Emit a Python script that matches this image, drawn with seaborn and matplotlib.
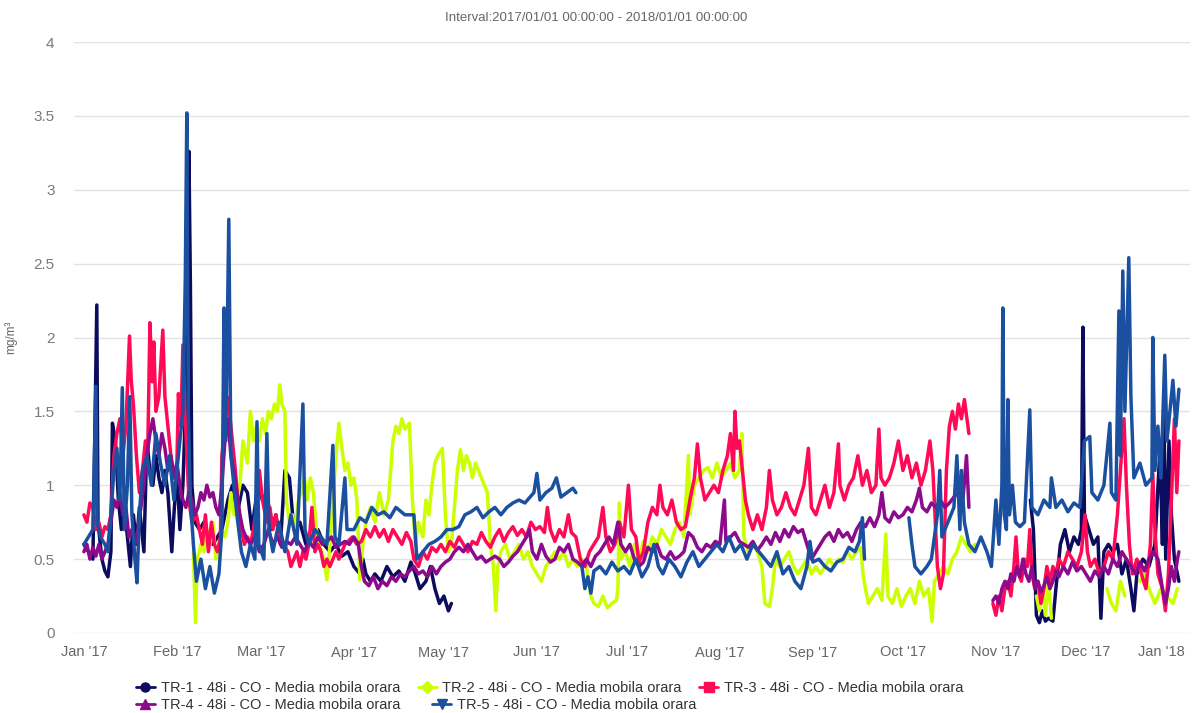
import numpy as np
import pandas as pd
import matplotlib
matplotlib.use("Agg")
import matplotlib.pyplot as plt
import matplotlib.dates as mdates
import matplotlib.transforms as mtransforms
from matplotlib.lines import Line2D
import seaborn as sns

# ---------------- data: (day of 2017, mg/m3) ; None = gap ----------------
series_names = ["TR-1 - 48i - CO - Media mobila orara",
                "TR-2 - 48i - CO - Media mobila orara",
                "TR-3 - 48i - CO - Media mobila orara",
                "TR-4 - 48i - CO - Media mobila orara",
                "TR-5 - 48i - CO - Media mobila orara"]

tr1 = [(0,0.6),(1.5,0.55),(3,0.5),(4.3,2.22),(4.7,0.75),(6,0.5),(7,0.42),(8,0.38),(9,0.55),(9.5,1.42),
       (10.5,1.3),(11.5,0.9),(12.5,0.7),(13.5,0.85),(14.5,0.65),(15.5,0.45),(16.5,0.8),(17.5,0.6),(18.5,0.85),
       (20,0.55),(21,1.3),(22,1.1),(23,1.0),(24,1.2),(25,1.05),(26,0.95),(27,1.1),(28,0.95),(29.3,0.55),
       (30,0.8),(31,1.1),(32,0.7),(33,1.0),(34,1.6),(35,3.26),(35.5,2.35),(36,1.0),(37,0.75),(38.5,0.7),
       (40,0.75),(41.5,0.65),(43,0.6),(44.5,0.65),(46,0.7),(48,0.9),(49.5,1.0),(51,0.8),(53,1.0),(54.5,0.95),
       (56,0.7),(58,1.0),(59.5,0.9),(61,0.95),(62.5,0.7),(64,0.8),(65.5,0.6),(67,1.1),(68.5,1.05),(70,0.7),
       (72,0.75),(74,0.6),(76,0.65),(78,0.7),(80,0.6),(82,0.55),(84,0.6),(86,0.52),(88,0.55),(90,0.45),
       (92,0.4),(93,0.5),(94,0.4),(95.5,0.35),(97,0.4),(99,0.35),(101,0.45),(103,0.38),(105,0.42),(107,0.35),
       (109,0.48),(110.5,0.4),(112,0.3),(114,0.35),(115.5,0.45),(117,0.3),(118.5,0.2),(120,0.25),(121.5,0.15),
       (122.5,0.2),(123,None),
       (315.5,0.9),(316.5,0.7),(317.5,0.12),(318.5,0.07),(319.5,0.15),(320.5,0.08),(321.5,0.1),(323,0.08),
       (324,0.3),(325.5,0.6),(327,0.7),(328.5,0.55),(330,0.65),(331.5,0.6),(332.5,0.7),(333,2.07),(333.5,0.8),
       (335,0.7),(336.5,0.6),(338,0.65),(339,0.1),(340,0.55),(341.5,0.6),(343,0.55),(344.5,0.6),(346,0.4),
       (347.5,0.5),(349,0.3),(350,0.15),(351,0.4),(353,0.5),(355,0.45),(357,0.6),(358.7,1.25),(359.5,0.6),
       (360,1.55),(360.6,0.5),(361.7,1.3),(362.5,0.8),(363.5,0.5),(365,0.35)]

tr2 = [(36.5,0.55),(37.2,0.07),(37.8,0.5),(39,0.6),(40,0.55),(41,0.7),(42,0.6),(43,0.75),(44,0.5),(45,0.55),
       (46,0.7),(47,0.65),(48,0.75),(49,0.95),(50,0.8),(51,0.9),(52,1.0),(53,1.3),(54.5,1.15),(55.5,1.5),
       (56.5,1.3),(57.5,1.4),(58.5,1.3),(59.5,1.45),(60.5,1.35),(61.5,1.5),(62.5,1.45),(63.5,1.55),(64.5,1.5),
       (65.3,1.68),(66,1.55),(67,1.5),(67.5,0.9),(68.5,0.75),(69.5,0.8),(70.5,0.7),(71.5,0.9),(72.5,0.95),
       (73.5,1.05),(74.5,0.9),(75.5,1.05),(76.5,0.95),(77.5,0.7),(78.5,0.6),(80,0.5),(81,0.36),(82,0.6),
       (83,0.9),(84,1.2),(85,1.42),(86,1.25),(87,1.1),(88,1.15),(89,1.0),(90,1.05),(91,0.9),(92,0.36),
       (93,0.6),(94,0.75),(95.5,0.85),(97,0.75),(98.5,0.95),(100,0.8),(101.5,0.9),(103,1.3),(104,1.4),
       (105,1.35),(106,1.45),(107,1.38),(108.5,1.42),(109.5,0.9),(110.5,0.6),(111.5,0.75),(113,0.65),
       (114,0.9),(115,0.8),(116,1.0),(117,1.15),(118,1.2),(119.5,1.25),(120.5,0.8),(121.5,0.55),(122.5,0.6),
       (123.5,0.85),(124.5,1.1),(125.5,1.24),(126.5,1.1),(127.5,1.2),(128.5,1.15),(129.5,1.05),(130.5,1.15),
       (131.5,1.1),(132.5,1.05),(133.5,1.0),(134.5,0.95),(135.5,0.6),(136.5,0.45),(137.3,0.15),(138,0.45),
       (139,0.55),(140.5,0.6),(142,0.5),(143.5,0.55),(145,0.6),(146.5,0.5),(148,0.55),(149.5,0.45),
       (151,0.4),(152.5,0.35),(154,0.45),(155.5,0.5),(157,0.55),(158.5,0.5),(160,0.55),(161.5,0.45),
       (163,0.5),(164.5,0.45),(166,0.5),(167.5,0.45),(169,0.25),(170,0.2),(171.5,0.18),(173,0.25),
       (174.5,0.17),(176,0.2),(177.5,0.22),(178,0.3),(178.5,0.88),(179,0.5),(180.5,0.55),(182,0.45),
       (183.5,0.6),(185,0.5),(186.5,0.62),(188,0.55),(189.5,0.65),(191,0.6),(192.5,0.7),(194,0.65),
       (195.5,0.6),(197,0.7),(198.5,0.75),(200,0.65),(201.5,1.2),(202,0.8),(203.5,1.0),(205,1.05),
       (206.5,1.1),(208,1.12),(209.5,1.05),(211,1.15),(212.5,1.05),(214,1.1),(215.5,1.15),(217,1.05),
       (218.5,1.1),(219.3,1.35),(220,0.65),(221.5,0.55),(223,0.6),(224.5,0.55),(226,0.45),(227,0.2),
       (228.5,0.18),(229.5,0.3),(230.5,0.5),(232,0.45),(233.5,0.5),(235,0.55),(236.5,0.45),(238,0.4),
       (239.5,0.45),(241,0.5),(242.5,0.4),(244,0.45),(245.5,0.4),(247,0.45),(248.5,0.5),(250,0.45),
       (251.5,0.5),(253,0.48),(254.5,0.55),(256,0.5),(257.5,0.55),(259,0.58),(259.7,0.4),(260.5,0.3),
       (261.5,0.2),(263,0.25),(264.5,0.3),(266,0.22),(267.3,0.67),(268,0.25),(269.5,0.2),(271,0.3),
       (272.5,0.18),(274,0.25),(275.5,0.3),(277,0.2),(278.5,0.35),(280,0.25),(281.5,0.3),(282.7,0.08),
       (283.5,0.35),(285,0.4),(286.5,0.45),(288,0.4),(289.5,0.5),(291,0.55),(292.5,0.65),(294,0.6),
       (295.5,0.55),(297,0.6),(297.5,None),
       (317.5,0.25),(318.5,0.15),(319.5,0.3),(320.5,0.12),(321.5,0.35),(322.5,0.1),(323,None),
       (341,0.3),(342.5,0.2),(344,0.15),(345.5,0.35),(347,0.25),(348,None),
       (352,0.35),(353.5,0.4),(355,0.3),(357,0.2),(359,0.3),(361,0.25),(363,0.2),(364.5,0.3)]

tr3 = [(0,0.8),(1,0.75),(2,0.88),(3,0.85),(4,0.7),(5,0.75),(6,0.65),(7,0.72),(8,0.7),(9,0.8),(10,1.2),
       (11,1.35),(12,1.45),(13,1.2),(14,1.4),(15.2,2.01),(15.8,1.7),(16.5,1.55),(17.5,1.2),(18.5,0.95),
       (19.5,1.1),(20.5,1.3),(21.3,1.25),(22,2.1),(22.8,1.7),(23.3,1.97),(24,1.5),(25,1.6),(26.3,2.05),
       (27,1.6),(28,1.4),(29,1.2),(30,1.05),(31,1.15),(31.5,1.62),(32.3,1.4),(33,1.95),(33.7,1.5),(35,0.9),
       (36,0.75),(37.5,0.8),(38.5,0.7),(39.5,0.6),(40.5,0.8),(41.5,0.55),(42.5,0.75),(43.5,0.6),(44.5,0.55),
       (45.5,0.65),(46,1.2),(47,1.4),(47.7,1.6),(48.5,1.5),(49.5,1.3),(50.5,1.1),(51.5,0.85),(52.5,0.7),
       (53.5,0.6),(54.5,0.65),(55.5,0.6),(56.5,0.7),(57.5,0.85),(58.5,1.1),(59.5,0.9),(61,0.75),(62,0.85),
       (63,0.7),(64,0.8),(65,0.65),(66.5,0.6),(68,0.55),(69,0.45),(70,0.5),(71,0.55),(72,0.45),(73,0.55),
       (74,0.5),(75,0.6),(76,0.85),(77,0.55),(78,0.6),(79,0.55),(80,0.45),(81,0.5),(82,0.45),(83,0.5),
       (84,0.55),(85,0.5),(86,0.55),(87,0.6),(88,0.62),(89.5,0.65),(91,0.6),(92.5,0.62),(94,0.7),(95.5,0.65),
       (97,0.72),(98.5,0.65),(100,0.7),(101.5,0.62),(103,0.7),(104.5,0.65),(106,0.6),(107.5,0.68),(109,0.62),
       (110,0.5),(111.5,0.45),(113,0.55),(114.5,0.5),(116,0.58),(117.5,0.55),(119,0.6),(120.5,0.55),
       (122,0.62),(123.5,0.58),(125,0.65),(126.5,0.6),(128,0.55),(129.5,0.62),(131,0.6),(132.5,0.68),
       (134,0.62),(135.5,0.58),(137,0.65),(138.5,0.7),(140,0.62),(141.5,0.68),(143,0.72),(144.5,0.66),
       (146,0.7),(147.5,0.65),(149,0.75),(150.5,0.7),(152,0.72),(153.5,0.68),(154.5,0.85),(155.5,0.7),
       (157,0.62),(158.5,0.7),(160,0.65),(161.5,0.8),(162.5,0.68),(164,0.65),(165.5,0.5),(167,0.45),
       (168.5,0.55),(170,0.6),(171.5,0.65),(173,0.85),(174,0.65),(175.5,0.55),(177,0.6),(178.5,0.75),
       (180,0.65),(181.5,1.0),(182.5,0.7),(184,0.65),(185,0.48),(186.5,0.55),(188,0.75),(189.5,0.85),
       (191,0.8),(192,1.0),(193,0.85),(194.5,0.8),(196,0.9),(197.5,0.75),(199,0.7),(200.5,0.72),(202,0.9),
       (203.5,1.05),(204.5,1.28),(205.5,1.05),(207,0.9),(208.5,0.95),(210,1.0),(211.5,0.95),(213,1.1),
       (214.5,1.2),(215.5,1.35),(216.5,1.1),(217,1.5),(217.7,1.25),(218.5,1.3),(219.5,1.1),(220.5,0.9),
       (221.5,0.8),(223,0.7),(224.5,0.8),(226,0.7),(227.5,0.85),(228.5,1.1),(229.5,0.9),(231,0.8),
       (232.5,0.85),(234,0.95),(235.5,0.85),(237,0.8),(238.5,0.9),(240,1.0),(241.5,1.25),(242.5,0.85),
       (244,0.8),(245.5,0.9),(247,1.0),(248.5,0.85),(250,0.95),(251.5,1.28),(252,1.0),(253.5,0.9),
       (255,1.0),(256.5,1.05),(258,1.2),(259.5,1.0),(261,1.1),(262.5,0.95),(264,1.0),(265,1.38),
       (265.7,1.05),(267,1.0),(268.5,1.05),(270,1.15),(271.5,1.3),(273,1.1),(274.5,1.2),(276,1.05),
       (277.5,1.15),(279,1.0),(280.5,1.1),(282,1.3),(283,1.1),(284.5,0.45),(285.5,0.3),(286.5,0.4),
       (287.5,1.1),(288.5,1.4),(289.5,1.5),(290.5,1.38),(291.5,1.55),(292.5,1.45),(293.5,1.58),(295,1.35),
       (296,None),
       (303,0.2),(304,0.12),(305,0.25),(306,0.15),(307,0.3),(308,0.35),(309,0.25),(310,0.45),(310.7,0.65),
       (311.5,0.4),(312.5,0.35),(313.5,0.5),(314.5,0.45),(315.3,0.7),(316,0.4),(317,0.3),(318,0.35),
       (319,0.2),(320,0.3),(321,0.45),(322,0.35),(323,0.45),(324,0.4),(325,0.5),(326.5,0.45),(328,0.55),
       (329.5,0.5),(331,0.45),(332.5,0.55),(333.7,0.8),(334.5,0.55),(335.5,0.45),(337,0.5),(338.5,0.4),
       (340,0.45),(341.5,0.55),(343,0.5),(344.5,0.8),(345.5,1.1),(346.7,1.45),(347.5,1.0),(348.5,0.6),
       (349.5,0.4),(351,0.5),(352.5,0.4),(354,0.3),(355.5,0.6),(356.3,1.08),(357,0.7),(358,0.4),
       (359.5,0.3),(360.5,0.15),(361.5,0.4),(362.5,0.9),(363.5,1.45),(364.3,0.95),(365,1.3)]

tr4 = [(0,0.55),(1,0.6),(2,0.5),(3,0.58),(4,0.52),(5,0.6),(6,0.5),(7,0.55),(8,0.6),(9,0.75),(10,0.9),
       (11,0.85),(12,0.95),(13,0.8),(14,0.85),(15,0.65),(16,0.7),(17,0.6),(18,0.7),(19,0.85),(20,1.0),
       (21,1.2),(22,1.35),(23,1.45),(24,1.3),(25,1.2),(26,1.35),(27,1.25),(28,1.1),(29,1.2),(30,1.05),
       (31,1.15),(32,1.0),(33,0.9),(34,0.85),(35,0.95),(36,0.9),(37,0.8),(38,0.85),(39,0.95),(40,0.9),
       (41,1.0),(42,0.92),(43,0.95),(44,0.85),(45,0.8),(46,1.0),(47,1.3),(48,1.45),(49,1.2),(50,1.1),
       (51,0.95),(52,0.8),(53,0.7),(54,0.65),(55.5,0.6),(57,0.65),(58.5,0.55),(60,0.6),(61.5,0.7),(63,0.6),
       (64.5,0.65),(66,0.58),(67.5,0.62),(69,0.6),(70.5,0.65),(72,0.6),(73.5,0.55),(75,0.62),(76.5,0.58),
       (78,0.65),(79.5,0.6),(81,0.62),(82.5,0.65),(84,0.58),(85.5,0.6),(87,0.62),(88.5,0.6),(90,0.65),
       (91.5,0.6),(92.5,0.45),(93.5,0.35),(95,0.32),(96.5,0.38),(98,0.3),(99.5,0.35),(101,0.32),
       (102.5,0.38),(104,0.35),(105.5,0.4),(107,0.38),(108.5,0.42),(110,0.45),(111.5,0.4),(113,0.42),
       (114.5,0.38),(116,0.45),(117.5,0.4),(119,0.45),(120.5,0.48),(122,0.5),(123.5,0.55),(125,0.58),
       (126.5,0.55),(128,0.6),(129.5,0.55),(131,0.5),(132.5,0.52),(134,0.48),(135.5,0.5),(137,0.52),
       (138.5,0.5),(140,0.45),(141.5,0.48),(143,0.52),(144.5,0.55),(146,0.6),(147.5,0.65),(148.5,0.7),
       (149.5,0.55),(151,0.5),(152.5,0.6),(154,0.52),(155.5,0.48),(157,0.5),(158.5,0.58),(160,0.55),
       (161.5,0.6),(163,0.5),(164.5,0.48),(166,0.45),(167.5,0.5),(169,0.45),(170.5,0.52),(172,0.55),
       (173.5,0.6),(175,0.65),(176.5,0.6),(178,0.75),(179,0.6),(180.5,0.55),(182,0.6),(183.5,0.5),
       (185,0.45),(186.5,0.48),(188,0.58),(189.5,0.55),(191,0.6),(192.5,0.52),(194,0.5),(195.5,0.55),
       (197,0.5),(198.5,0.52),(200,0.55),(201.5,0.68),(203,0.65),(204.5,0.58),(206,0.55),(207.5,0.6),
       (209,0.58),(210.5,0.62),(212,0.6),(213.5,0.9),(214,0.62),(215.5,0.65),(217,0.68),(218.5,0.62),
       (220,0.6),(221.5,0.58),(223,0.62),(224.5,0.56),(226,0.6),(227.5,0.65),(229,0.6),(230.5,0.68),
       (232,0.62),(233.5,0.7),(235,0.65),(236.5,0.72),(238,0.68),(239.5,0.7),(241,0.6),(242.5,0.5),
       (244,0.55),(245.5,0.6),(247,0.65),(248.5,0.68),(250,0.62),(251.5,0.7),(253,0.65),(254.5,0.68),
       (256,0.62),(257.5,0.7),(259,0.75),(260.5,0.72),(262,0.78),(263.5,0.72),(265,0.8),(266,0.95),
       (267,0.78),(268.5,0.75),(270,0.82),(271.5,0.78),(273,0.8),(274.5,0.85),(276,0.82),(277.5,0.9),
       (278.5,0.98),(279.5,0.85),(281,0.82),(282.5,0.88),(284,0.85),(285.5,0.9),(287,0.85),(288.5,0.88),
       (290,0.92),(291.5,0.95),(293,0.9),(294.2,1.2),(295,0.85),(296,None),
       (303,0.22),(304,0.25),(305,0.2),(306,0.3),(307,0.35),(308,0.3),(309,0.4),(310,0.35),(311,0.45),
       (312,0.38),(313,0.5),(314,0.4),(315,0.35),(316,0.45),(317,0.3),(318,0.35),(319,0.28),(320,0.32),
       (321,0.38),(322,0.3),(323,0.35),(324,0.42),(325,0.38),(326.5,0.45),(328,0.4),(329.5,0.48),(331,0.42),
       (332.5,0.45),(334,0.4),(335.5,0.35),(337,0.42),(338.5,0.38),(340,0.45),(341.5,0.4),(343,0.5),
       (344.5,0.45),(346,0.55),(347.5,0.5),(349,0.45),(350.5,0.4),(352,0.48),(353.5,0.42),(355,0.5),
       (356.5,0.55),(358,0.5),(359.5,0.3),(360.5,0.2),(361.5,0.3),(362.5,0.45),(363.5,0.35),(364.5,0.5),
       (365,0.55)]

tr5 = [(0,0.6),(1.5,0.65),(3,0.7),(4,1.67),(4.4,0.75),(5.5,0.65),(7,0.6),(8,0.55),(9,0.8),(10,1.1),
       (11,1.25),(12,0.9),(12.8,1.66),(13.5,0.7),(14.5,1.0),(15.3,1.6),(16,0.8),(17,0.5),(17.7,0.34),
       (18.5,0.8),(19.5,1.1),(21,1.2),(22.5,1.0),(24,1.35),(25.5,1.15),(27,1.0),(28.5,1.2),(30,0.9),
       (31.5,1.2),(33,1.5),(33.8,2.4),(34.3,3.52),(34.8,1.5),(35.5,0.9),(36.5,0.6),(37.5,0.35),(39,0.5),
       (40.5,0.3),(42,0.45),(43.5,0.27),(45,0.4),(46,0.7),(46.7,2.2),(47.3,1.3),(48.3,2.8),(49,1.2),
       (50,1.0),(51,0.8),(52.5,0.55),(54,0.45),(55.5,0.6),(57,0.5),(57.7,1.43),(58.3,0.6),(60,0.5),
       (61,1.35),(61.7,0.7),(63,0.55),(65,0.75),(67,0.55),(69,0.8),(71,0.6),(73,1.55),(73.7,0.7),(75,0.6),
       (77,0.7),(79,0.65),(81,0.6),(83,1.27),(83.7,0.65),(85,0.6),(87,1.05),(87.7,0.7),(90,0.7),(92,0.78),
       (94,0.75),(96,0.85),(98,0.8),(100,0.82),(102,0.78),(104,0.85),(107,0.8),(110,0.8),(111,0.5),
       (113,0.55),(115,0.6),(117,0.62),(119,0.65),(121,0.7),(123,0.7),(125,0.72),(127,0.8),(129,0.82),
       (131,0.85),(133,0.78),(135,0.82),(137,0.85),(139,0.8),(141,0.85),(143,0.88),(145,0.9),(147,0.88),
       (150,0.95),(151,1.08),(152,0.9),(154,0.95),(156,0.98),(157.5,1.05),(159,0.92),(161,0.95),
       (163,0.98),(164,0.95),(164.5,None),
       (166,0.45),(167,0.3),(168,0.38),(169,0.27),(170,0.42),(172,0.45),(174,0.4),(176,0.48),(178,0.42),
       (180,0.45),(182,0.4),(184,0.5),(186,0.38),(188,0.45),(190,0.6),(191.5,0.45),(193,0.4),(195,0.5),
       (197,0.45),(199,0.38),(201,0.48),(203,0.55),(205,0.45),(207,0.5),(209,0.55),(211,0.6),(213,0.55),
       (215,0.65),(217,0.55),(219,0.6),(221,0.5),(223,0.6),(225,0.55),(227,0.5),(229,0.45),(231,0.55),
       (233,0.4),(235,0.45),(237,0.35),(239,0.3),(241,0.45),(242,0.62),(243,0.48),(245,0.5),(247,0.45),
       (249,0.42),(251,0.48),(253,0.5),(255,0.58),(257,0.55),(258.5,0.62),(259.5,0.78),(260.2,0.5),
       (261,None),
       (275,0.78),(276,0.6),(277,0.45),(279,0.4),(281,0.45),(282.5,0.5),(284.5,0.8),(285.3,1.1),(286,0.65),
       (288,0.75),(290,0.85),(291,1.2),(292,0.7),(292.5,1.1),(293.5,0.75),(295,0.6),(297,0.55),(299,0.65),
       (301,0.55),(302.5,0.45),(304,0.9),(305,0.6),(306,1.0),(306.3,2.2),(306.8,0.8),(307.5,0.7),
       (308,1.58),(308.5,0.8),(309.5,1.0),(310.5,0.75),(312,0.72),(313.5,0.75),(315.3,1.51),(316,0.85),
       (318,0.8),(320,0.9),(322,0.85),(322.5,1.05),(324,0.85),(326,0.9),(328,0.82),(330,0.88),(332,0.85),
       (333.5,1.3),(335.3,1.33),(336,0.95),(338,0.9),(340,1.0),(342,1.42),(342.5,0.95),(344,0.9),
       (345,2.18),(345.5,1.2),(346.3,2.45),(347,1.5),(348.3,2.54),(349,1.6),(350,1.05),(352,1.15),
       (354,1.0),(356,1.05),(356.3,2.0),(357,1.1),(358,1.4),(359,1.05),(360.3,1.88),(361,1.3),(362,1.5),
       (363,1.71),(364,1.4),(365,1.65)]

colors = ["#0c0c5e", "#ccff00", "#ff0a56", "#8c0a8c", "#1b50a0"]
markers = ["o", "D", "s", "^", "v"]

month_labels = ["Jan '17", "Feb '17", "Mar '17", "Apr '17", "May '17", "Jun '17", "Jul '17",
                "Aug '17", "Sep '17", "Oct '17", "Nov '17", "Dec '17", "Jan '18"]
y_ticks = [0, 0.5, 1, 1.5, 2, 2.5, 3, 3.5, 4]
title_text = "Interval:2017/01/01 00:00:00 - 2018/01/01 00:00:00"
y_label = "mg/m³"

# ---------------- build frame ----------------
start = pd.Timestamp("2017-01-01")
rows = []
for name, data in zip(series_names, [tr1, tr2, tr3, tr4, tr5]):
    seg = 0
    for d, v in data:
        if v is None:
            seg += 1
            continue
        rows.append((name, seg, start + pd.to_timedelta(d, unit="D"), v))
df = pd.DataFrame(rows, columns=["series", "seg", "date", "value"])

# ---------------- plot ----------------
sns.set_theme(style="white")
plt.rcParams["font.family"] = ["Liberation Sans", "DejaVu Sans"]

fig = plt.figure(figsize=(11.92, 7.13), dpi=100)
ax = fig.add_axes([74 / 1192, 1 - 633 / 713, (1190 - 74) / 1192, (633 - 42) / 713])

for name, col in zip(series_names, colors):
    sub = df[df["series"] == name]
    sns.lineplot(data=sub, x="date", y="value", units="seg", estimator=None, sort=False,
                 color=col, linewidth=2.5, ax=ax, legend=False)

ax.set_ylim(0, 4)
ax.set_yticks(y_ticks)
ax.set_yticklabels([f"{t:g}" for t in y_ticks])
ax.set_xlim(start - pd.Timedelta(days=3.3), start + pd.Timedelta(days=368.7))
month_starts = pd.date_range("2017-01-01", "2018-01-01", freq="MS")
ax.set_xticks(month_starts)
ax.set_xticklabels(month_labels)
ax.grid(axis="y", color="#e3e3e3", linewidth=1)
ax.grid(axis="x", visible=False)
for s in ax.spines.values():
    s.set_visible(False)
ax.tick_params(axis="x", length=0, pad=9, labelsize=10.5, labelcolor="#666666")
ax.tick_params(axis="y", length=0, pad=14, labelsize=11, labelcolor="#7a7a7a")
ax.set_xlabel("")
ax.set_ylabel(y_label, fontsize=8.5, color="#666666", labelpad=12)

# last label shifted to stay inside the figure
last = ax.get_xticklabels()[-1]
last.set_horizontalalignment("right")
last.set_transform(last.get_transform() + mtransforms.ScaledTranslation(6 / 100, 0, fig.dpi_scale_trans))

fig.text(0.5, 1 - 18 / 713, title_text, ha="center", va="center", fontsize=9.5, color="#666666")

handles = [Line2D([0], [0], color=c, lw=2, marker=m, markersize=6.5) for c, m in zip(colors, markers)]
leg_font = {"family": ["Liberation Sans", "DejaVu Sans"], "size": 10.5}
leg1 = fig.legend(handles[:3], series_names[:3], loc="center left",
                  bbox_to_anchor=(136 / 1192, 1 - 688 / 713), ncol=3, frameon=False,
                  prop=leg_font, handlelength=1.3, handletextpad=0.4, columnspacing=1.2,
                  labelcolor="#333333", borderaxespad=0, borderpad=0)
leg2 = fig.legend(handles[3:], series_names[3:], loc="center left",
                  bbox_to_anchor=(136 / 1192, 1 - 705 / 713), ncol=2, frameon=False,
                  prop=leg_font, handlelength=1.3, handletextpad=0.4, columnspacing=2.2,
                  labelcolor="#333333", borderaxespad=0, borderpad=0)

fig.savefig("out.png", dpi=100)
